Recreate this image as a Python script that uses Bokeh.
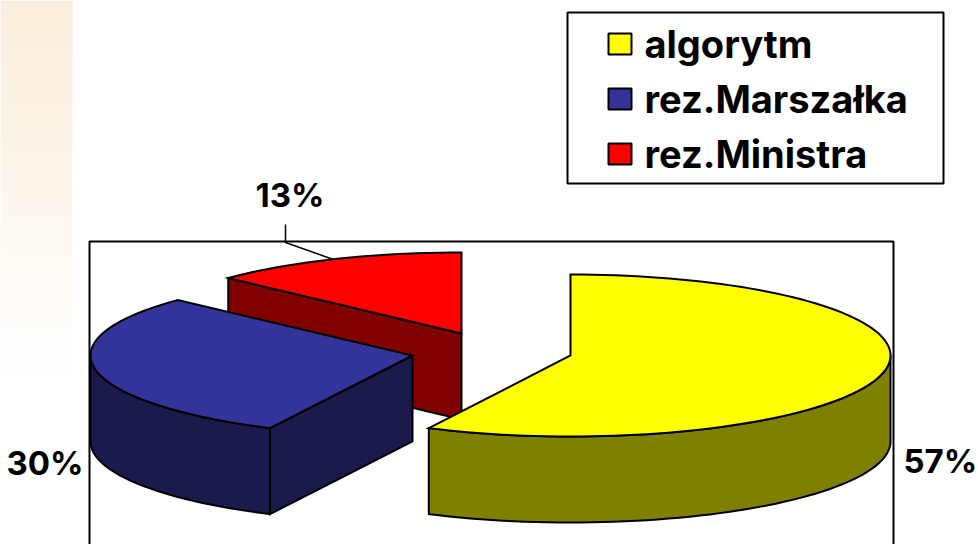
from math import sin, cos, radians
from bokeh.plotting import figure
from bokeh.models import Range1d
from bokeh.core.properties import value
from bokeh.embed import file_html
from bokeh.resources import INLINE

# data
categories = ["algorytm", "rez.Marszałka", "rez.Ministra"]
shares = [57.3, 29.7, 13.0]
pct_labels = ["57%", "30%", "13%"]
top_colors = ["#FFFF00", "#333399", "#FF0000"]
wall_colors = ["#808000", "#1A1A4D", "#800000"]

# layout (pixels of the picture)
FONT = "Inter"
RXS = [320, 322, 320]
RY, DEPTH = 81, 86
CENTERS = [(570, 355), (412, 355), (461, 333)]
LABEL_POS = [(903, 460), (6, 462), (255, 194)]
LEGEND_Y = [43, 98, 153]
SWATCH_Y = [33, 88, 143]

p = figure(width=978, height=544, output_backend="svg", toolbar_location=None,
           x_range=Range1d(0, 978), y_range=Range1d(544, 0), min_border=0)
p.axis.visible = False
p.grid.visible = False
p.outline_line_color = None
p.background_fill_color = "white"
p.border_fill_color = "white"

# pale side strip
BANDS = 48
STRIP_H = 390
for i in range(BANDS):
    t = i / (BANDS - 1)
    c = (round(251 + 4 * t), round(238 + 17 * t), round(220 + 35 * t))
    p.quad(left=0, right=72, top=i * STRIP_H / BANDS, bottom=(i + 1) * STRIP_H / BANDS + 0.5,
           fill_color="#%02X%02X%02X" % c, line_color=None)

# frame (open below the picture) and leader line
p.line([89, 89, 893, 893], [560, 241, 241, 560], line_color="black", line_width=2)
p.line([285, 285, 333], [224, 242, 259], line_color="black", line_width=1.5)


def pt(i, deg, dy=0):
    c = CENTERS[i]
    return c[0] + RXS[i] * sin(radians(deg)), c[1] - RY * cos(radians(deg)) + dy


def arc(i, a, b, dy=0, step=2.0):
    n = max(2, int(abs(b - a) / step))
    return [pt(i, a + (b - a) * k / n, dy) for k in range(n + 1)]


def poly(points, color):
    p.patch([q[0] for q in points], [q[1] for q in points], fill_color=color,
            line_color="black", line_width=2, line_join="miter")


# slice angles from the shares, clockwise from 12 o'clock
edges = [0]
for s in shares:
    edges.append(edges[-1] + s * 3.6)

# draw back to front: red, blue, yellow
for i in (2, 1, 0):
    c, a, b = CENTERS[i], edges[i], edges[i + 1]
    # inner cut face that looks at the viewer
    if i > 0:
        e = pt(i, a)
        poly([c, e, (e[0], e[1] + DEPTH), (c[0], c[1] + DEPTH)], wall_colors[i])
    # outer wall: only the front half of the rim
    lo, hi = max(a, 90), min(b, 270)
    if lo < hi:
        poly(arc(i, lo, hi) + arc(i, hi, lo, DEPTH), wall_colors[i])
    poly([c] + arc(i, a, b), top_colors[i])

# percentage labels
for (x, y), t in zip(LABEL_POS, pct_labels):
    p.text([x], [y], text=[t], text_font=value(FONT), text_font_style="bold",
           text_font_size=value("33px"), text_color="black", text_baseline="alphabetic")

# legend
p.quad(left=567, right=943, top=12, bottom=183, fill_color="white", line_color="black", line_width=2)
for name, col, y, sy in zip(categories, top_colors, LEGEND_Y, SWATCH_Y):
    p.quad(left=608, right=631, top=sy, bottom=sy + 21, fill_color=col, line_color="black", line_width=2)
    p.text([644], [y], text=[name], text_font=value(FONT), text_font_style="bold",
           text_font_size=value("38px"), text_color="black", text_baseline="alphabetic")

open("out.html", "w").write(file_html(p, INLINE))
